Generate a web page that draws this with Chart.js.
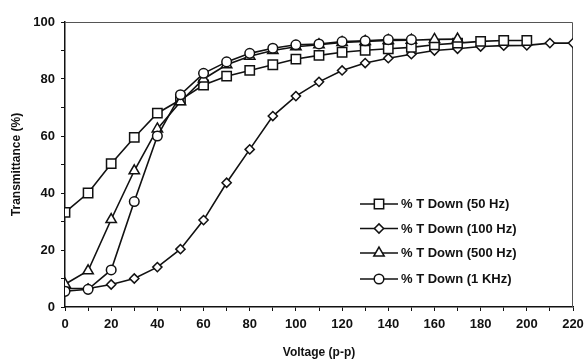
<!DOCTYPE html>
<html>
<head>
<meta charset="utf-8">
<script src="https://cdn.jsdelivr.net/npm/chart.js@4/dist/chart.umd.min.js"></script>
<style>
    html, body { margin: 0; padding: 0; background: #fff; }
    #wrap { width: 586px; height: 360px; }
</style>
</head>
<body>
<div id="wrap"><canvas id="chart" width="586" height="360"></canvas></div>
<script>
// Data
const voltage = [0, 10, 20, 30, 40, 50, 60, 70, 80, 90, 100, 110, 120, 130, 140, 150, 160, 170, 180, 190, 200, 210, 220];
const down50Hz = [33.2, 40, 50.3, 59.5, 68, 72.7, 77.9, 81, 83, 85, 87, 88.3, 89.4, 90.1, 90.6, 91.1, 92, 92.6, 93.2, 93.5, 93.5];
const down100Hz = [6.5, 6.5, 7.9, 10, 14, 20.3, 30.5, 43.6, 55.3, 67, 74, 79, 83, 85.6, 87.3, 88.7, 90, 90.6, 91.4, 91.7, 91.8, 92.6, 92.6];
const down500Hz = [8, 12.7, 30.7, 47.8, 62.5, 72, 80, 85, 88, 90, 91.3, 92, 92.8, 93.2, 93.5, 93.6, 93.9, 94];
const down1kHz = [5.5, 6.2, 13, 37, 60, 74.5, 82, 86, 89, 90.8, 92, 92.3, 93.1, 93.4, 93.8, 93.8];
const yTicks = [0, 20, 40, 60, 80, 100];
const xTicks = [0, 20, 40, 60, 80, 100, 120, 140, 160, 180, 200, 220];

const FONT = '"Liberation Sans", Arial, sans-serif';
const INK = '#111';

function toPoints(values) {
    return values.map((v, i) => ({ x: voltage[i], y: v }));
}

function series(label, values, style, radius, order) {
    return {
        label,
        data: toPoints(values),
        borderColor: INK,
        borderWidth: 1.6,
        backgroundColor: '#fff',
        pointStyle: style,
        pointRadius: radius,
        pointBorderWidth: 1.5,
        pointBorderColor: INK,
        pointBackgroundColor: '#fff',
        tension: 0,
        order
    };
}

// Plot frame (top + right edges)
const framePlugin = {
    id: 'frame',
    beforeDatasetsDraw(chart) {
        const { ctx, chartArea: a } = chart;
        ctx.save();
        ctx.strokeStyle = '#555';
        ctx.lineWidth = 1;
        ctx.beginPath();
        ctx.moveTo(a.left, a.top + 0.5);
        ctx.lineTo(a.right - 0.5, a.top + 0.5);
        ctx.lineTo(a.right - 0.5, a.bottom);
        ctx.stroke();
        ctx.restore();
    }
};

function drawMarker(ctx, style, r, x, y) {
    ctx.beginPath();
    if (style === 'rect') {
        const s = Math.SQRT1_2 * r;
        ctx.rect(x - s, y - s, 2 * s, 2 * s);
    } else if (style === 'rectRot') {
        ctx.moveTo(x - r, y);
        ctx.lineTo(x, y - r);
        ctx.lineTo(x + r, y);
        ctx.lineTo(x, y + r);
        ctx.closePath();
    } else if (style === 'triangle') {
        for (let k = 0; k < 3; k++) {
            const ang = k * 2 * Math.PI / 3;
            const px = x + Math.sin(ang) * r;
            const py = y - Math.cos(ang) * r;
            if (k === 0) ctx.moveTo(px, py); else ctx.lineTo(px, py);
        }
        ctx.closePath();
    } else {
        ctx.arc(x, y, r, 0, Math.PI * 2);
    }
    ctx.fill();
    ctx.stroke();
}

// Legend inside the plot, line + marker like the original
const legendPlugin = {
    id: 'insideLegend',
    afterDraw(chart) {
        const { ctx } = chart;
        const rows = [204, 228.5, 253, 279];
        ctx.save();
        chart.data.datasets.forEach((ds, i) => {
            const y = rows[i];
            ctx.strokeStyle = INK;
            ctx.lineWidth = 1.6;
            ctx.beginPath();
            ctx.moveTo(360, y);
            ctx.lineTo(398, y);
            ctx.stroke();
            ctx.fillStyle = '#fff';
            ctx.lineWidth = 1.5;
            drawMarker(ctx, ds.pointStyle, ds.pointRadius, 379, y);
            ctx.fillStyle = INK;
            ctx.font = 'bold 13px ' + FONT;
            ctx.textBaseline = 'middle';
            ctx.textAlign = 'left';
            ctx.fillText(ds.label, 401, y + 0.5);
        });
        ctx.restore();
    }
};

new Chart(document.getElementById('chart'), {
    type: 'line',
    data: {
        datasets: [
            series('% T Down (50 Hz)', down50Hz, 'rect', 6.6, 2),
            series('% T Down (100 Hz)', down100Hz, 'rectRot', 4.6, 3),
            series('% T Down (500 Hz)', down500Hz, 'triangle', 6, 1),
            series('% T Down (1 KHz)', down1kHz, 'circle', 4.8, 0)
        ]
    },
    options: {
        responsive: false,
        animation: false,
        layout: { padding: { top: 22, right: 13, left: 0, bottom: 0 } },
        plugins: {
            legend: { display: false },
            tooltip: { enabled: false }
        },
        scales: {
            x: {
                type: 'linear',
                min: 0,
                max: 220,
                afterFit(scale) {
                    scale.height = 53;
                    scale.paddingLeft = 0;
                    scale.paddingRight = 0;
                },
                afterBuildTicks(scale) {
                    scale.ticks = voltage.map(v => ({ value: v }));
                },
                ticks: {
                    autoSkip: false,
                    maxRotation: 0,
                    padding: 6,
                    color: INK,
                    font: { family: FONT, size: 13, weight: 'bold' },
                    callback: v => xTicks.includes(v) ? String(v) : ''
                },
                grid: { drawOnChartArea: false, drawTicks: true, tickLength: 4, color: INK, lineWidth: 1 },
                border: { display: true, color: INK, width: 1.5 },
                title: {
                    display: true,
                    text: 'Voltage (p-p)',
                    color: INK,
                    padding: { top: 1, bottom: 0 },
                    font: { family: FONT, size: 12, weight: 'bold' }
                }
            },
            y: {
                min: 0,
                max: 100,
                afterFit(scale) {
                    scale.width = 65;
                    scale.paddingTop = 0;
                    scale.paddingBottom = 0;
                },
                ticks: {
                    stepSize: 10,
                    autoSkip: false,
                    padding: 6,
                    color: INK,
                    font: { family: FONT, size: 13, weight: 'bold' },
                    callback: v => yTicks.includes(v) ? String(v) : ''
                },
                grid: { drawOnChartArea: false, drawTicks: true, tickLength: 4, color: INK, lineWidth: 1 },
                border: { display: true, color: INK, width: 1.5 },
                title: {
                    display: true,
                    text: 'Transmittance (%)',
                    color: INK,
                    padding: { top: 9, bottom: 0 },
                    font: { family: FONT, size: 12, weight: 'bold' }
                }
            }
        }
    },
    plugins: [framePlugin, legendPlugin]
});
</script>
</body>
</html>
